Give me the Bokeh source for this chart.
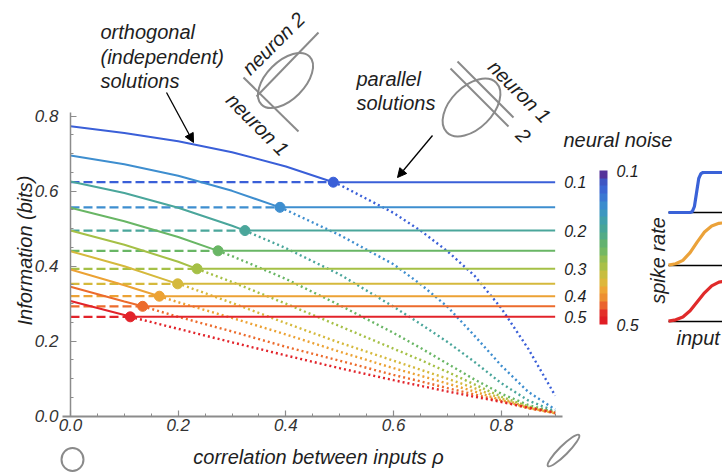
import math
from bokeh.plotting import figure
from bokeh.models import (Range1d, LinearAxis, SingleIntervalTicker, PrintfTickFormatter,
                          Label, Arrow, NormalHead, ColorBar, LinearColorMapper, FixedTicker,
                          ColumnDataSource)
from bokeh.embed import file_html
from bokeh.resources import INLINE
from bokeh.core.properties import value

# ---------------- data ----------------
noise_levels = [0.1, 0.15, 0.2, 0.25, 0.3, 0.35, 0.4, 0.45, 0.5]
noise_tick_labels = ["0.1", "", "0.2", "", "0.3", "", "0.4", "", "0.5"]

rho = [0.0, 0.1, 0.2, 0.3, 0.4, 0.5, 0.6, 0.65, 0.7, 0.75, 0.8, 0.85, 0.9]

info_noise_010 = [0.773, 0.755, 0.733, 0.704, 0.666, 0.617, 0.542, 0.495, 0.440, 0.375, 0.288, 0.180, 0.055]
info_noise_015 = [0.695, 0.672, 0.641, 0.601, 0.550, 0.483, 0.405, 0.352, 0.292, 0.215, 0.135, 0.065, 0.018]
info_noise_020 = [0.626, 0.595, 0.556, 0.508, 0.448, 0.378, 0.292, 0.246, 0.198, 0.145, 0.088, 0.042, 0.013]
info_noise_025 = [0.556, 0.520, 0.478, 0.427, 0.366, 0.296, 0.222, 0.182, 0.140, 0.098, 0.060, 0.030, 0.010]
info_noise_030 = [0.495, 0.457, 0.412, 0.358, 0.300, 0.240, 0.180, 0.150, 0.118, 0.085, 0.052, 0.026, 0.009]
info_noise_035 = [0.440, 0.400, 0.354, 0.302, 0.248, 0.196, 0.148, 0.124, 0.100, 0.075, 0.047, 0.024, 0.009]
info_noise_040 = [0.391, 0.349, 0.304, 0.262, 0.218, 0.172, 0.128, 0.108, 0.087, 0.066, 0.043, 0.022, 0.008]
info_noise_045 = [0.345, 0.306, 0.265, 0.226, 0.185, 0.148, 0.110, 0.093, 0.075, 0.058, 0.040, 0.021, 0.008]
info_noise_050 = [0.307, 0.270, 0.233, 0.197, 0.162, 0.128, 0.096, 0.081, 0.066, 0.052, 0.038, 0.023, 0.010]

# rho where the parallel solution takes over, and its (flat) information
switch_rho = [0.488, 0.389, 0.324, 0.274, 0.235, 0.199, 0.165, 0.134, 0.111]
parallel_info = [0.624, 0.557, 0.495, 0.441, 0.393, 0.353, 0.320, 0.293, 0.265]

# inset: spike-rate tuning curves
inset_input_steep = [0.0, 0.30, 0.33, 0.36, 0.39, 0.42, 0.45, 0.48, 0.52, 1.0]
rate_low_noise = [0.0, 0.0, 0.02, 0.15, 0.50, 0.85, 0.97, 1.0, 1.0, 1.0]
inset_input = [0.0, 0.1, 0.2, 0.3, 0.4, 0.5, 0.6, 0.7, 0.8, 1.0]
rate_mid_noise = [0.01, 0.04, 0.12, 0.30, 0.55, 0.78, 0.92, 0.98, 1.0, 1.0]
rate_high_noise = [0.01, 0.04, 0.11, 0.26, 0.48, 0.70, 0.87, 0.96, 0.99, 1.0]

curves = [info_noise_010, info_noise_015, info_noise_020, info_noise_025, info_noise_030,
          info_noise_035, info_noise_040, info_noise_045, info_noise_050]

# ---------------- styles ----------------
line_colors = ["#3a5fd8", "#3e8ecf", "#4aa69b", "#69b665", "#a5c046",
               "#d5b93c", "#eca234", "#ec6b2c", "#e2232a"]
bar_palette = ["#e01e25", "#e3302a", "#ea632d", "#ed8f31", "#eea535", "#ddb73b", "#c8bd40",
               "#a9c048", "#92bd52", "#74b862", "#63b26f", "#52ab86", "#47a597", "#40a0aa",
               "#3c97c0", "#3b8ccd", "#3b78d2", "#3c66d2", "#3f56c3", "#55339a"]
FONT = "Liberation Sans"
TXT = "#1e1e1e"
AX = "#8c8c8c"
GRAY = "#8a8a8a"

# the frame covers the whole canvas, which sits at the page's top-left corner
PX_L, PX_R, PY_T, PY_B = 0, 722, 0, 472


def lin_range(v0, p0, v1, p1, lo, hi):
    k = (p1 - p0) / (v1 - v0)
    return Range1d(start=v0 + (lo - p0) / k, end=v0 + (hi - p0) / k)


x_rng = lin_range(0.0, 70.0, 0.8, 500.8, PX_L, PX_R)
y_rng = lin_range(0.0, 415.7, 0.8, 115.7, PY_B, PY_T)

p = figure(width=PX_R - PX_L, height=PY_B - PY_T, x_range=x_rng, y_range=y_rng,
           x_axis_type=None, y_axis_type=None, toolbar_location=None,
           output_backend="svg", min_border=0)
p.outline_line_color = None
p.background_fill_color = "white"
p.border_fill_color = "white"

p.extra_x_ranges = {"px": Range1d(PX_L, PX_R),
                    "inset_x": lin_range(0, 668, 1, 740, PX_L, PX_R)}
p.extra_y_ranges = {"px": Range1d(PY_B, PY_T),
                    "inset_a": lin_range(0, 212, 1, 172, PY_B, PY_T),
                    "inset_b": lin_range(0, 265, 1, 222, PY_B, PY_T),
                    "inset_c": lin_range(0, 321, 1, 280, PY_B, PY_T)}

# ---------------- axes ----------------
common = dict(axis_line_color=AX, major_tick_line_color=AX, minor_tick_line_color=AX,
              major_tick_in=6, major_tick_out=0, minor_tick_in=3, minor_tick_out=0,
              major_tick_line_width=1.2, minor_tick_line_width=1,
              formatter=PrintfTickFormatter(format="%.1f"),
              major_label_text_font=FONT, major_label_text_font_style="italic",
              major_label_text_font_size="17px", major_label_text_color="#333333")

xax = LinearAxis(fixed_location=0.0, bounds=(-0.015, 0.913),
                 ticker=SingleIntervalTicker(interval=0.2, num_minor_ticks=4),
                 axis_line_width=2.2, major_label_standoff=3, **common)
yax = LinearAxis(fixed_location=0.0, bounds=(0.0, 0.81),
                 ticker=SingleIntervalTicker(interval=0.2, num_minor_ticks=4),
                 axis_line_width=1.5, major_label_standoff=12, **common)
p.add_layout(xax, "below")
p.add_layout(yax, "left")

# ---------------- curves ----------------
for vals, sw, lvl, col in zip(curves, switch_rho, parallel_info, line_colors):
    sx = [r for r in rho if r < sw] + [sw]
    sy = [v for r, v in zip(rho, vals) if r < sw] + [lvl]
    dx = [sw] + [r for r in rho if r > sw]
    dy = [lvl] + [v for r, v in zip(rho, vals) if r > sw]
    p.line([rho[0], sw], [lvl, lvl], line_color=col, line_width=2.3, line_dash="9 4")
    p.line(dx, dy, line_color=col, line_width=2.4, line_dash="2 3")
    p.line(sx, sy, line_color=col, line_width=2.0)
    p.line([sw, rho[-1]], [lvl, lvl], line_color=col, line_width=2.0)

p.scatter(switch_rho, parallel_info, size=10, color=line_colors, line_color=line_colors)

lab_src = ColumnDataSource(dict(
    x=[rho[-1] for t in noise_tick_labels if t],
    y=[v for v, t in zip(parallel_info, noise_tick_labels) if t],
    t=[t for t in noise_tick_labels if t]))
p.text(x="x", y="y", text="t", source=lab_src, x_offset=9, text_baseline="middle",
       text_font=value(FONT), text_font_style="italic", text_font_size="16px", text_color=TXT)

# ---------------- colour bar ----------------
mapper = LinearColorMapper(palette=bar_palette, low=-noise_levels[-1], high=-noise_levels[0])
cb = ColorBar(color_mapper=mapper, orientation="vertical", width=8, height=154,
              location=(599 - PX_L, PY_B - 324), padding=0, margin=0,
              ticker=FixedTicker(ticks=[-noise_levels[-1], -noise_levels[0]]),
              major_label_overrides={-noise_levels[-1]: "0.5", -noise_levels[0]: "0.1"},
              major_tick_line_color=None, major_tick_in=0, major_tick_out=0,
              label_standoff=9, bar_line_color=None, border_line_color=None,
              background_fill_alpha=0,
              major_label_text_font=FONT, major_label_text_font_style="italic",
              major_label_text_font_size="16px", major_label_text_color=TXT)
p.add_layout(cb, "center")

# ---------------- inset tuning curves ----------------
for ry, xs, ys, col in [("inset_a", inset_input_steep, rate_low_noise, "#3a62d8"),
                        ("inset_b", inset_input, rate_mid_noise, "#eba23a"),
                        ("inset_c", inset_input, rate_high_noise, "#e02a2a")]:
    p.line([inset_input[0], inset_input[-1]], [0, 0], x_range_name="inset_x", y_range_name=ry,
           line_color="black", line_width=1.3)
    p.line(xs, ys, x_range_name="inset_x", y_range_name=ry, line_color=col, line_width=3.2)

# ---------------- schematic decorations (page-pixel coordinates) ----------------
dec = dict(x_range_name="px", y_range_name="px")
p.ellipse(x=[285, 471, 72, 563], y=[80, 107, 459, 450], width=[68, 70, 22, 44],
          height=[38, 42, 23, 9], angle=[math.pi / 4, math.pi / 4, 0, math.pi / 4],
          width_units="screen", height_units="screen", fill_color=None,
          line_color=GRAY, line_width=2, **dec)
p.segment(x0=[256, 243, 457, 450], y0=[96, 77, 61, 68], x1=[318, 298, 513, 508],
          y1=[32, 131, 117, 126], line_color=GRAY, line_width=2, **dec)

for xs_, ys_, xe, ye in [(166, 92, 193, 142), (432, 135, 397, 177)]:
    p.add_layout(Arrow(end=NormalHead(size=9, fill_color="black", line_color="black"),
                       x_start=xs_, y_start=ys_, x_end=xe, y_end=ye,
                       line_color="black", line_width=1.3, **dec))


def note(text, x, y, size="20px", angle=0.0, align="left"):
    p.add_layout(Label(x=x, y=y, text=text, angle=angle, text_align=align,
                       text_baseline="middle", text_font=FONT, text_font_style="italic",
                       text_font_size=size, text_color=TXT, **dec))


note("orthogonal", 100, 31)
note("(independent)", 100, 56)
note("solutions", 100, 80)
note("parallel", 356, 78)
note("solutions", 356, 102)
note("neural noise", 563, 139)
note("neuron 2", 273, 43, angle=math.pi / 4, align="center")
note("neuron 1", 257, 124, angle=-math.pi / 4, align="center")
note("neuron 1", 519, 91, angle=-math.pi / 4, align="center")
note("2", 523, 135, angle=-math.pi / 4, align="center")
note("spike rate", 657, 260, angle=math.pi / 2, align="center")
note("input", 676, 337)
# axis titles
note("Information (bits)", 24, 250, angle=math.pi / 2, align="center")
note("correlation between inputs ρ", 318, 456, align="center")

open("out.html", "w").write(file_html(p, INLINE))
